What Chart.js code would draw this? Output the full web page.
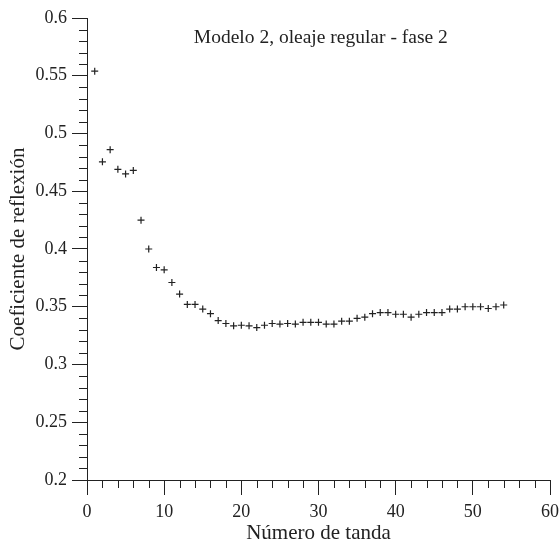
<!DOCTYPE html>
<html>
<head>
<meta charset="utf-8">
<script src="https://cdn.jsdelivr.net/npm/chart.js@4/dist/chart.umd.min.js"></script>
<style>
  html, body { margin: 0; padding: 0; background: #fff; }
  #wrap { width: 560px; height: 543px; position: relative; }
</style>
</head>
<body>
<div id="wrap"><canvas id="refChart" width="560" height="543"></canvas></div>
<script>
// run number (tanda) and reflection coefficient
const tandas = [1, 2, 3, 4, 5, 6, 7, 8, 9, 10, 11, 12, 13, 14, 15, 16, 17, 18,
    19, 20, 21, 22, 23, 24, 25, 26, 27, 28, 29, 30, 31, 32, 33, 34, 35, 36,
    37, 38, 39, 40, 41, 42, 43, 44, 45, 46, 47, 48, 49, 50, 51, 52, 53, 54];
const coefReflexion = [0.554, 0.4755, 0.486, 0.469, 0.465, 0.468, 0.425, 0.400, 0.384, 0.382,
    0.371, 0.361, 0.352, 0.352, 0.348, 0.344, 0.338, 0.3355, 0.3335, 0.334,
    0.3335, 0.332, 0.334, 0.3355, 0.335, 0.3355, 0.335, 0.3365, 0.3365, 0.3365,
    0.335, 0.335, 0.3375, 0.3375, 0.340, 0.341, 0.344, 0.345, 0.345, 0.3435,
    0.3435, 0.341, 0.3435, 0.345, 0.345, 0.345, 0.348, 0.348, 0.350, 0.350,
    0.350, 0.3485, 0.350, 0.3515];

const xTicks = [0, 10, 20, 30, 40, 50, 60];
const yTicks = [0.2, 0.25, 0.3, 0.35, 0.4, 0.45, 0.5, 0.55, 0.6];
const chartTitle = 'Modelo 2, oleaje regular - fase 2';
const xLabel = 'Número de tanda';
const yLabel = 'Coeficiente de reflexión';

const serif = '"Liberation Serif", "DejaVu Serif", serif';
const ink = '#222';

// small ticks between the labelled ones (Chart.js has no minor ticks)
const minorTicks = {
    id: 'minorTicks',
    afterDraw(chart) {
        const ctx = chart.ctx;
        const xs = chart.scales.x, ys = chart.scales.y;
        ctx.save();
        ctx.strokeStyle = ink;
        ctx.lineWidth = 1;
        ctx.beginPath();
        for (let v = 2; v < 60; v += 2) {
            if (v % 10 === 0) continue;
            const px = Math.round(xs.getPixelForValue(v)) + 0.5;
            ctx.moveTo(px, ys.bottom);
            ctx.lineTo(px, ys.bottom + 8);
        }
        for (let i = 21; i < 60; i++) {
            if (i % 5 === 0) continue;
            const py = Math.round(ys.getPixelForValue(i / 100)) + 0.5;
            ctx.moveTo(xs.left, py);
            ctx.lineTo(xs.left - 8, py);
        }
        ctx.stroke();
        ctx.restore();
    }
};

// title sits inside the plot, near the top
const innerTitle = {
    id: 'innerTitle',
    afterDraw(chart) {
        const ctx = chart.ctx;
        const xs = chart.scales.x, ys = chart.scales.y;
        ctx.save();
        ctx.fillStyle = ink;
        ctx.font = '19.5px ' + serif;
        ctx.textAlign = 'center';
        ctx.textBaseline = 'middle';
        ctx.fillText(chartTitle, xs.getPixelForValue(30.3), ys.getPixelForValue(0.583));
        ctx.restore();
    }
};

new Chart(document.getElementById('refChart'), {
    type: 'scatter',
    data: {
        datasets: [{
            data: tandas.map((t, i) => ({ x: t, y: coefReflexion[i] })),
            pointStyle: 'cross',
            pointRadius: 3.5,
            pointBorderWidth: 1.2,
            borderColor: ink,
            backgroundColor: ink
        }]
    },
    options: {
        responsive: false,
        animation: false,
        layout: { padding: { left: 0, right: 0, top: 18, bottom: -3 } },
        plugins: { legend: { display: false }, tooltip: { enabled: false } },
        scales: {
            x: {
                type: 'linear',
                min: 0, max: 60,
                afterBuildTicks: s => { s.ticks = xTicks.map(v => ({ value: v })); },
                afterFit: s => { s.height = 66; s.paddingRight = 10; },
                border: { display: true, color: ink, width: 1 },
                grid: { drawOnChartArea: false, drawTicks: true, tickLength: 15, color: ink, tickColor: ink },
                ticks: { color: ink, font: { family: serif, size: 18 }, padding: 6, maxRotation: 0 },
                title: { display: true, text: xLabel, color: ink, font: { family: serif, size: 21 }, padding: { top: 0, bottom: 0 } }
            },
            y: {
                type: 'linear',
                min: 0.2, max: 0.6,
                afterBuildTicks: s => { s.ticks = yTicks.map(v => ({ value: v })); },
                afterFit: s => { s.width = 87; },
                border: { display: true, color: ink, width: 1 },
                grid: { drawOnChartArea: false, drawTicks: true, tickLength: 15, color: ink, tickColor: ink },
                ticks: { color: ink, font: { family: serif, size: 18 }, padding: 5, callback: v => String(+v.toFixed(2)) },
                title: { display: true, text: yLabel, color: ink, font: { family: serif, size: 21 }, padding: { top: 6, bottom: 0 } }
            }
        }
    },
    plugins: [minorTicks, innerTitle]
});
</script>
</body>
</html>
